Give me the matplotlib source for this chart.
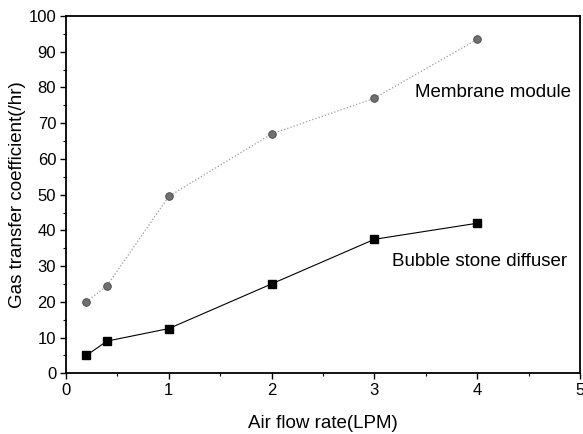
import matplotlib.pyplot as plt
from matplotlib.ticker import MultipleLocator

plt.rcParams['font.family'] = ['Liberation Sans', 'DejaVu Sans']

# air flow rate (LPM)
flow = [0.2, 0.4, 1, 2, 3, 4]
# gas transfer coefficient (/hr)
membrane = [20, 24.5, 49.5, 67, 77, 93.5]
bubble = [5, 9, 12.5, 25, 37.5, 42]

fig = plt.figure(figsize=(5.83, 4.34), dpi=100)
ax = fig.add_axes([0.113, 0.14, 0.882, 0.823])

ax.plot(flow, membrane, color='#9a9a9a', linestyle=':', linewidth=0.9,
        marker='o', markersize=5.5, markerfacecolor='#707070',
        markeredgecolor='#444444', markeredgewidth=0.6)
ax.plot(flow, bubble, color='black', linestyle='-', linewidth=0.8,
        marker='s', markersize=6, markerfacecolor='black',
        markeredgecolor='black')

ax.text(3.39, 78.7, 'Membrane module', fontsize=13.5, va='center', ha='left')
ax.text(3.17, 31.4, 'Bubble stone diffuser', fontsize=13.5, va='center', ha='left')

ax.set_xlim(0, 5)
ax.set_ylim(0, 100)
ax.xaxis.set_major_locator(MultipleLocator(1))
ax.xaxis.set_minor_locator(MultipleLocator(0.5))
ax.yaxis.set_major_locator(MultipleLocator(10))
ax.yaxis.set_minor_locator(MultipleLocator(5))
ax.tick_params(which='major', direction='out', length=4, width=1,
               labelsize=12, pad=3)
ax.tick_params(which='minor', direction='out', length=2, width=0.8)

for s in ax.spines.values():
    s.set_linewidth(1.3)

ax.set_xlabel('Air flow rate(LPM)', fontsize=13.5, labelpad=12)
ax.set_ylabel('Gas transfer coefficient(/hr)', fontsize=13.5, labelpad=2)

fig.savefig('out.png', dpi=100)
